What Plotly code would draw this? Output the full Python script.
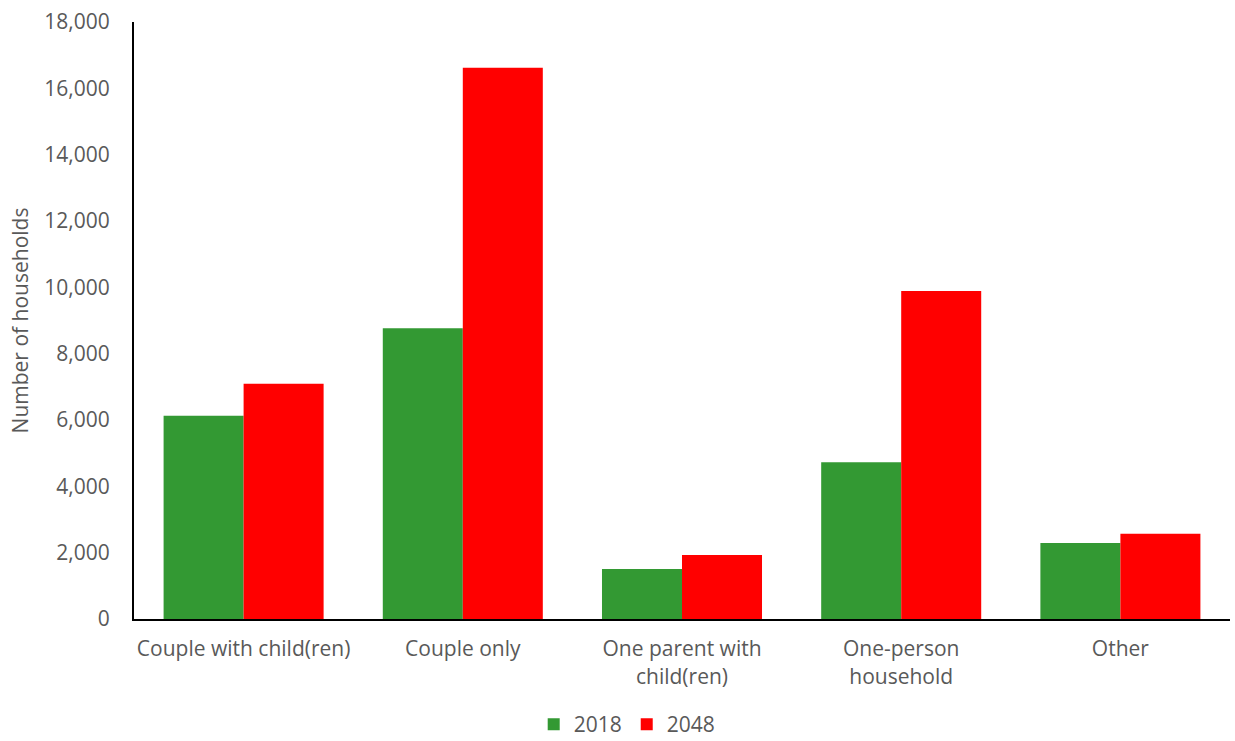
import plotly.graph_objects as go

categories = ["Couple with child(ren)", "Couple only", "One parent with<br>child(ren)", "One-person<br>household", "Other"]
values_2018 = [6130, 8770, 1510, 4725, 2290]
values_2048 = [7095, 16620, 1930, 9890, 2570]
series_names = ["2018", "2048"]
tick_vals = [0, 2000, 4000, 6000, 8000, 10000, 12000, 14000, 16000, 18000]

font_family = "'Open Sans', sans-serif"
grey = "#595959"
fs = 21

fig = go.Figure()
fig.add_trace(go.Bar(x=categories, y=values_2018, name=series_names[0], marker_color="#339933", marker_line_width=0))
fig.add_trace(go.Bar(x=categories, y=values_2048, name=series_names[1], marker_color="#ff0000", marker_line_width=0))

fig.update_layout(
    width=1235, height=741,
    margin=dict(l=134, r=5, t=22, b=122, autoexpand=False),
    paper_bgcolor="white", plot_bgcolor="white",
    barmode="group", bargap=0.27, bargroupgap=0,
    font=dict(family=font_family, size=fs, color=grey),
    legend=dict(orientation="h", x=0.45, xanchor="center",
                y=-0.2113, yanchor="bottom",
                font=dict(size=fs, color=grey), itemwidth=30, traceorder="normal",
                tracegroupgap=0, itemsizing="constant"),
    xaxis=dict(showline=True, linecolor="black", linewidth=2, ticks="", showgrid=False,
               tickfont=dict(size=fs, color=grey), ticklabelstandoff=10),
    yaxis=dict(range=[0, 18000], tickvals=tick_vals, tickformat=",", showline=True,
               linecolor="black", linewidth=2, showgrid=False, zeroline=False, ticks="",
               ticklabelstandoff=18,
               tickfont=dict(size=fs, color=grey),
               title=dict(text="Number of households", font=dict(size=fs, color=grey), standoff=10)),
)

fig.write_html("out.html")
